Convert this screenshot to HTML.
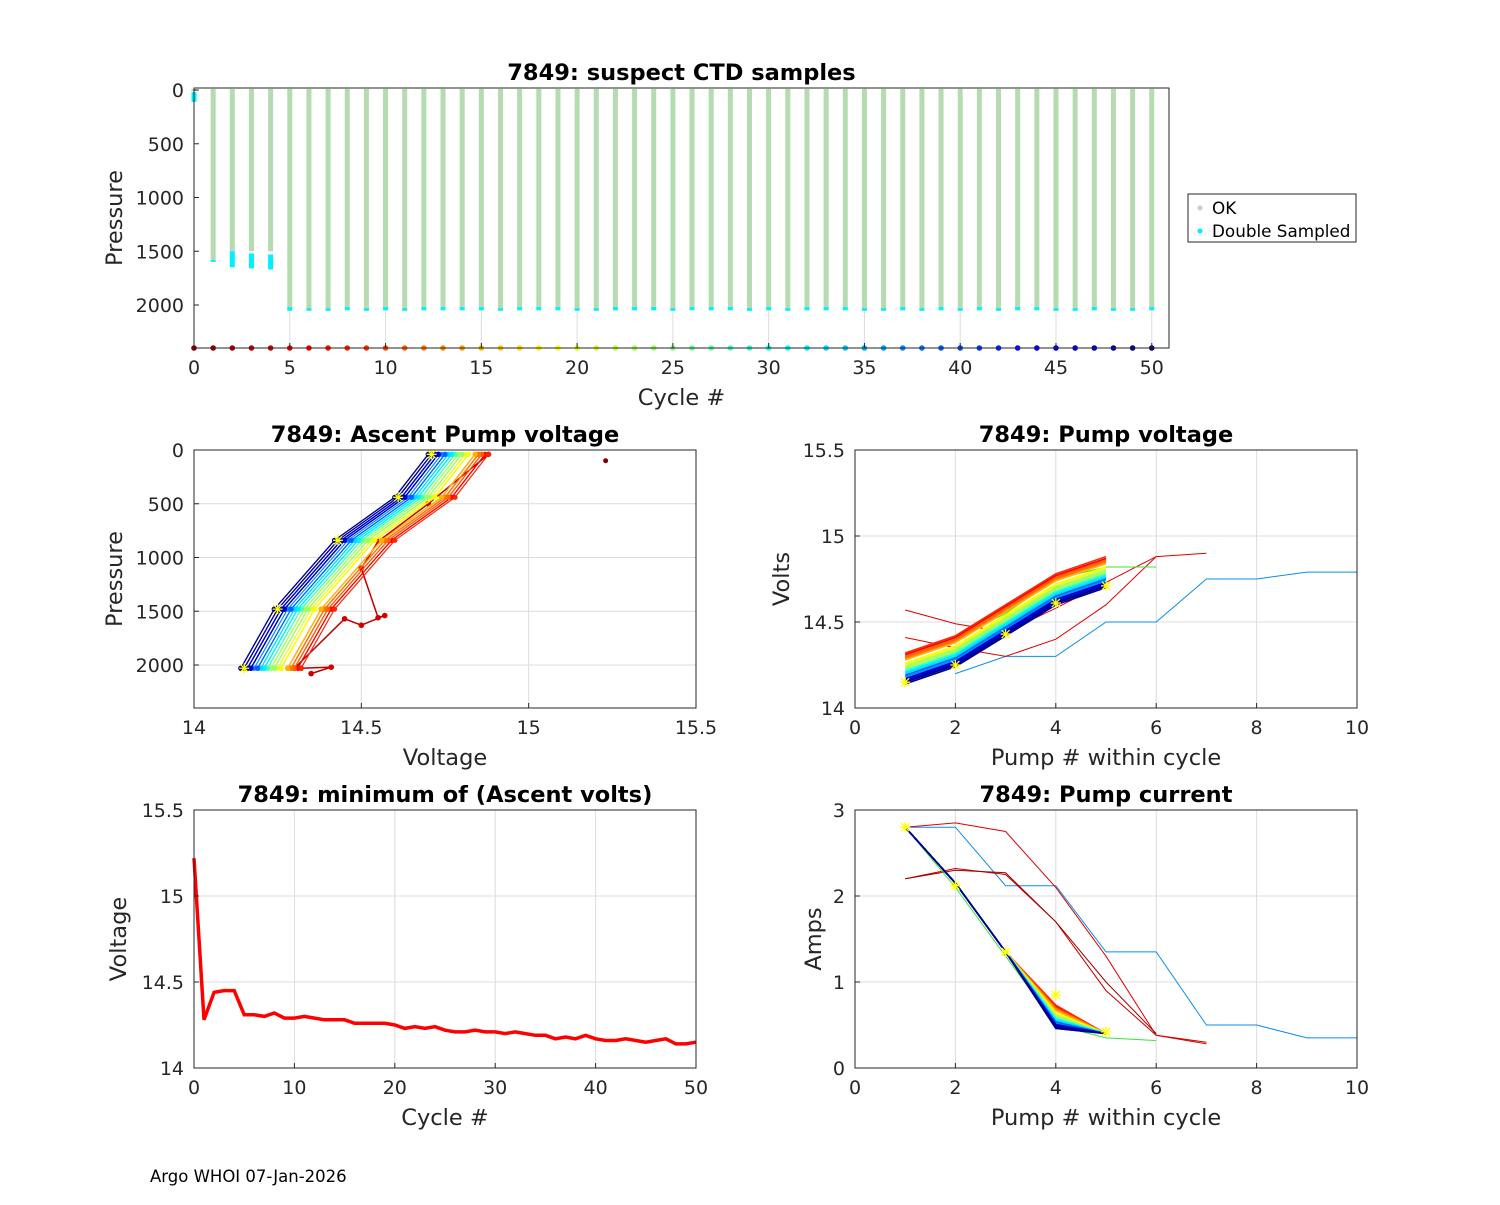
<!DOCTYPE html>
<html><head><meta charset="utf-8">
<style>
body{margin:0;background:#fff;}
svg{font-family:"DejaVu Sans","Liberation Sans",sans-serif;}
</style></head>
<body>
<svg id="fig" width="1500" height="1200" viewBox="0 0 1500 1200" xmlns="http://www.w3.org/2000/svg">
<rect width="1500" height="1200" fill="#fff"/>
<text x="150" y="1182" font-size="16.5" fill="#000">Argo WHOI 07-Jan-2026</text>
</svg>
<script>
// ---- data ----
const cycles = Array.from({length:51},(_,i)=>i);
const minVolts = [15.22,14.28,14.44,14.45,14.45,14.31,14.31,14.30,14.32,14.29,14.29,14.30,14.29,14.28,14.28,14.28,14.26,14.26,14.26,14.26,14.25,14.23,14.24,14.23,14.24,14.22,14.21,14.21,14.22,14.21,14.21,14.20,14.21,14.20,14.19,14.19,14.17,14.18,14.17,14.19,14.17,14.16,14.16,14.17,14.16,14.15,14.16,14.17,14.14,14.14,14.15];
const maxDepth = [0,1580,1500,1500,1500,2040,2040,2040,2030,2040,2030,2040,2030,2030,2030,2030,2040,2030,2030,2030,2040,2040,2030,2030,2030,2040,2030,2030,2030,2040,2030,2040,2030,2030,2030,2040,2040,2030,2040,2030,2040,2030,2040,2030,2030,2040,2040,2030,2040,2040,2030];
const dblTop = [0,1580,1500,1520,1530,2020,2030,2030,2020,2030,2020,2030,2020,2020,2020,2020,2030,2020,2020,2020,2030,2030,2020,2020,2020,2030,2020,2020,2020,2030,2020,2030,2020,2020,2020,2030,2030,2020,2030,2020,2030,2020,2030,2020,2020,2030,2030,2020,2030,2030,2020];
const dblBot = [100,1590,1640,1650,1660,2045,2045,2045,2040,2045,2040,2045,2040,2040,2040,2040,2045,2040,2040,2040,2045,2045,2040,2040,2040,2045,2040,2040,2040,2045,2040,2045,2040,2040,2040,2045,2045,2040,2045,2040,2045,2040,2045,2040,2040,2045,2045,2040,2045,2045,2040];
const pumpDepth = [2030,1480,840,440,40];
const voltRise = [0,0.10,0.28,0.46,0.56];
const ampBase = [2.8,2.15,1.35,0.55,0.4];
// irregular cycles
const oddVoltPressX = [14.35,14.41,14.32,14.30,14.45,14.50,14.57,14.55,14.50,14.55,14.70,14.88];
const oddVoltPressY = [2080,2020,2030,2030,1570,1630,1540,1560,1100,850,500,40];
const oddVoltsA = [14.57,14.49,14.44,14.58,14.73,14.88,14.90];
const oddVoltsB = [14.41,14.35,14.30,14.40,14.60,14.88];
const oddVoltsC = [null,14.20,14.30,14.30,14.50,14.50,14.75,14.75,14.79,14.79];
const oddAmpsA = [2.2,2.32,2.25,1.7,0.9,0.38,0.3];
const oddAmpsB = [2.8,2.85,2.75,2.1,1.3,0.38,0.28];
const oddAmpsC = [2.8,2.8,2.12,2.12,1.35,1.35,0.5,0.5,0.35,0.35];
const oddAmpsD = [2.2,2.3,2.27,1.7,1.0,0.4];

const NS="http://www.w3.org/2000/svg";
const svg=document.getElementById('fig');
function el(tag,attrs,parent){const e=document.createElementNS(NS,tag);for(const k in attrs)e.setAttribute(k,attrs[k]);(parent||svg).appendChild(e);return e;}
function jet(t){const c=v=>Math.max(0,Math.min(1,v));const r=c(1.5-Math.abs(4*t-3)),g=c(1.5-Math.abs(4*t-2)),b=c(1.5-Math.abs(4*t-1));return `rgb(${Math.round(r*255)},${Math.round(g*255)},${Math.round(b*255)})`;}
function cyc(c){return jet(1-c/50);}

function axes(o){
  const g=el('g',{});
  
  
  const sx=v=>o.x0+(v-o.xmin)/(o.xmax-o.xmin)*(o.x1-o.x0);
  const sy=o.yrev? v=>o.y0+(v-o.ymin)/(o.ymax-o.ymin)*(o.y1-o.y0) : v=>o.y1-(v-o.ymin)/(o.ymax-o.ymin)*(o.y1-o.y0);
  el('rect',{x:o.x0,y:o.y0,width:o.x1-o.x0,height:o.y1-o.y0,fill:'#fff'},g);
  const grid=el('g',{stroke:'#dcdcdc','stroke-width':1},g);
  o.xt.forEach(v=>el('line',{x1:sx(v),x2:sx(v),y1:o.y0,y2:o.y1},grid));
  if(!o.noYGrid) o.yt.forEach(v=>el('line',{x1:o.x0,x2:o.x1,y1:sy(v),y2:sy(v)},grid));
  const plot=el('g',{},g);
  return {g,sx,sy,plot,finish(){
    el('rect',{x:o.x0,y:o.y0,width:o.x1-o.x0,height:o.y1-o.y0,fill:'none',stroke:'#262626','stroke-width':1},g);
    o.xt.forEach((v,i)=>{el('line',{x1:sx(v),x2:sx(v),y1:o.y1,y2:o.y1-5,stroke:'#262626'},g);
      const t=el('text',{x:sx(v),y:o.y1+26,'font-size':19,'text-anchor':'middle',fill:'#262626'},g);t.textContent=o.xl[i];
      });
    o.yt.forEach((v,i)=>{el('line',{x1:o.x0,x2:o.x0+5,y1:sy(v),y2:sy(v),stroke:'#262626'},g);
      const t=el('text',{x:o.x0-10,y:sy(v)+7,'font-size':19,'text-anchor':'end',fill:'#262626'},g);t.textContent=o.yl[i];
      });
    const tt=el('text',{x:(o.x0+o.x1)/2,y:o.y0-8,'font-size':22.5,'font-weight':'bold','text-anchor':'middle',fill:'#000'},g);tt.textContent=o.title;
    
    const xl=el('text',{x:(o.x0+o.x1)/2,y:o.y1+57,'font-size':22.5,'text-anchor':'middle',fill:'#262626'},g);xl.textContent=o.xlabel;
    
    const yx=o.x0-o.ylOff, yy=(o.y0+o.y1)/2;
    const yl=el('text',{x:yx,y:yy,'font-size':22.5,'text-anchor':'middle',fill:'#262626',transform:`rotate(-90 ${yx} ${yy})`},g);yl.textContent=o.ylabel;
    
  }};
}
function poly(ax,xs,ys,color,w,name){
  const pts=[];xs.forEach((x,i)=>{if(x!==null&&ys[i]!==null)pts.push(ax.sx(x).toFixed(1)+','+ax.sy(ys[i]).toFixed(1));});
  const p=el('polyline',{points:pts.join(' '),fill:'none',stroke:color,'stroke-width':w},ax.plot);
  return p;
}
function dot(ax,x,y,r,color,name){const d=el('circle',{cx:ax.sx(x),cy:ax.sy(y),r:r,fill:color},ax.plot);
  return d;}
function star(ax,x,y){const X=ax.sx(x),Y=ax.sy(y);
  const s=el('path',{d:`M${X-5} ${Y}H${X+5}M${X} ${Y-5}V${Y+5}M${X-4} ${Y-4}L${X+4} ${Y+4}M${X-4} ${Y+4}L${X+4} ${Y-4}`,stroke:'#ffff00','stroke-width':1.3},ax.plot);
  }

// ---- top: suspect CTD samples ----
const A1=axes({name:'ctd-samples-chart',x0:194,x1:1169,y0:88,y1:348,xmin:0,xmax:50.9,ymin:-19,ymax:2400,yrev:true,
  xt:[0,5,10,15,20,25,30,35,40,45,50],xl:['0','5','10','15','20','25','30','35','40','45','50'],
  yt:[0,500,1000,1500,2000],yl:['0','500','1000','1500','2000'],noYGrid:true,
  title:'7849: suspect CTD samples',xlabel:'Cycle #',ylabel:'Pressure',ylOff:72});
cycles.forEach(c=>{
  const x=A1.sx(c);
  const b=el('rect',{x:x-2.5,y:A1.sy(-10),width:5,height:A1.sy(Math.max(maxDepth[c],10))-A1.sy(-10),fill:'#b5dbb0'},A1.plot);
  
  const d=el('rect',{x:x-2.5,y:A1.sy(c===0?20:dblTop[c]),width:5,height:A1.sy(dblBot[c])-A1.sy(c===0?20:dblTop[c])+1,fill:'#00f0ff'},A1.plot);
  
  dot(A1,c,2400,2.8,cyc(c),'cycle-color-dot');
});
A1.finish();
// legend
const lg=el('g',{});

el('rect',{x:1188,y:194,width:168,height:48,fill:'#fff',stroke:'#262626','stroke-width':1},lg);
el('circle',{cx:1200,cy:208,r:2.5,fill:'#b5dbb0'},lg);
el('circle',{cx:1200,cy:231,r:2.5,fill:'#00f0ff'},lg);
const l1=el('text',{x:1212,y:214,'font-size':16.8,fill:'#000'},lg);l1.textContent='OK';

const l2=el('text',{x:1212,y:237,'font-size':16.8,fill:'#000'},lg);l2.textContent='Double Sampled';


// ---- middle left: ascent pump voltage ----
const A2=axes({name:'ascent-pump-voltage-chart',x0:194,x1:696,y0:450,y1:708,xmin:14,xmax:15.5,ymin:0,ymax:2400,yrev:true,
  xt:[14,14.5,15,15.5],xl:['14','14.5','15','15.5'],yt:[0,500,1000,1500,2000],yl:['0','500','1000','1500','2000'],
  title:'7849: Ascent Pump voltage',xlabel:'Voltage',ylabel:'Pressure',ylOff:72});
poly(A2,oddVoltPressX,oddVoltPressY,'#c00000',1.5,'cycle-line-irregular');
oddVoltPressX.forEach((v,i)=>dot(A2,v,oddVoltPressY[i],2.8,'#d00000','pump-point'));
dot(A2,15.23,100,2.5,'#800000','pump-point-outlier');
for(let c=5;c<=50;c++){
  const xs=voltRise.map(r=>minVolts[c]+r), ys=pumpDepth;
  poly(A2,xs,ys,cyc(c),1.2,'cycle-line');
  xs.forEach((v,i)=>dot(A2,v,ys[i],2.6,cyc(c),'pump-point'));
}
voltRise.forEach((r,i)=>star(A2,minVolts[50]+r,pumpDepth[i]));
A2.finish();

// ---- middle right: pump voltage ----
const A3=axes({name:'pump-voltage-chart',x0:855,x1:1357,y0:450,y1:708,xmin:0,xmax:10,ymin:14,ymax:15.5,
  xt:[0,2,4,6,8,10],xl:['0','2','4','6','8','10'],yt:[14,14.5,15,15.5],yl:['14','14.5','15','15.5'],
  title:'7849: Pump voltage',xlabel:'Pump # within cycle',ylabel:'Volts',ylOff:66});
const idx=n=>Array.from({length:n},(_,i)=>i+1);
poly(A3,idx(10),oddVoltsC,'#0a8fe8',1,'cycle-line-irregular');
poly(A3,idx(7),oddVoltsA,'#e00000',1,'cycle-line-irregular');
poly(A3,idx(6),oddVoltsB,'#e00000',1,'cycle-line-irregular');
poly(A3,idx(6),[14.28,14.40,14.55,14.75,14.82,14.82],'#40e040',1,'cycle-line-irregular');
for(let c=5;c<=50;c++){poly(A3,idx(5),voltRise.map(r=>minVolts[c]+r),cyc(c),1.5,'cycle-line');}
voltRise.forEach((r,i)=>star(A3,i+1,minVolts[50]+r));
A3.finish();

// ---- bottom left: minimum of ascent volts ----
const A4=axes({name:'min-ascent-volts-chart',x0:194,x1:696,y0:810,y1:1068,xmin:0,xmax:50,ymin:14,ymax:15.5,
  xt:[0,10,20,30,40,50],xl:['0','10','20','30','40','50'],yt:[14,14.5,15,15.5],yl:['14','14.5','15','15.5'],
  title:'7849: minimum of (Ascent volts)',xlabel:'Cycle #',ylabel:'Voltage',ylOff:68});
poly(A4,cycles,minVolts,'#ff0000',3.5,'min-volts-line');
A4.finish();

// ---- bottom right: pump current ----
const A5=axes({name:'pump-current-chart',x0:855,x1:1357,y0:810,y1:1068,xmin:0,xmax:10,ymin:0,ymax:3,
  xt:[0,2,4,6,8,10],xl:['0','2','4','6','8','10'],yt:[0,1,2,3],yl:['0','1','2','3'],
  title:'7849: Pump current',xlabel:'Pump # within cycle',ylabel:'Amps',ylOff:34});
poly(A5,idx(10),oddAmpsC,'#0a8fe8',1,'cycle-line-irregular');
poly(A5,idx(7),oddAmpsA,'#c00000',1,'cycle-line-irregular');
poly(A5,idx(7),oddAmpsB,'#e00000',1,'cycle-line-irregular');
poly(A5,idx(6),oddAmpsD,'#a00000',1,'cycle-line-irregular');
poly(A5,idx(6),[2.8,2.1,1.3,0.5,0.35,0.32],'#40e040',1,'cycle-line-irregular');
for(let c=5;c<=50;c++){
  const a=ampBase.map((v,i)=>i===3? v+(14.2-minVolts[c])*-1.5 : v);
  poly(A5,idx(5),a,cyc(c),1.5,'cycle-line');
}
[2.8,2.12,1.35,0.85,0.42].forEach((v,i)=>star(A5,i+1,v));
A5.finish();
</script>
</body></html>
